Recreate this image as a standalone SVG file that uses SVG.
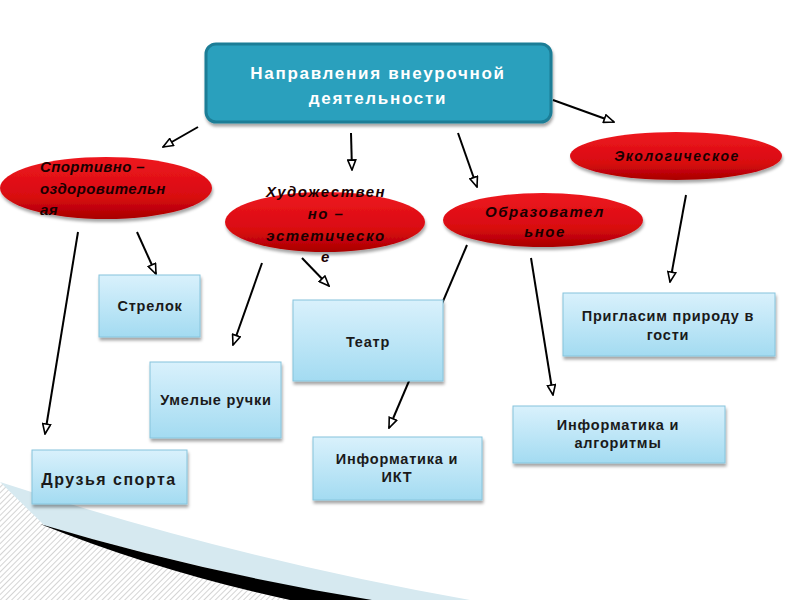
<svg xmlns="http://www.w3.org/2000/svg" width="800" height="600" viewBox="0 0 800 600">
<defs>
<linearGradient id="red" x1="0" y1="0" x2="0" y2="1">
<stop offset="0" stop-color="#ee1820"/>
<stop offset="0.65" stop-color="#d80a10"/>
<stop offset="1" stop-color="#a80000"/>
</linearGradient>
<linearGradient id="blue" x1="0" y1="0" x2="0" y2="1">
<stop offset="0" stop-color="#d9f1fc"/>
<stop offset="1" stop-color="#a3dbf1"/>
</linearGradient>
<filter id="sh" x="-10%" y="-10%" width="125%" height="130%">
<feDropShadow dx="1" dy="3" stdDeviation="1.5" flood-color="#000" flood-opacity="0.35"/>
</filter>
<pattern id="hatch" width="4" height="4" patternUnits="userSpaceOnUse" patternTransform="rotate(45)">
<rect width="4" height="4" fill="#ffffff"/>
<line x1="0" y1="0" x2="0" y2="4" stroke="#bdbdbd" stroke-width="1.3"/>
</pattern>
<marker id="ah" viewBox="0 0 12 10" refX="11" refY="5" markerWidth="12" markerHeight="10" markerUnits="userSpaceOnUse" orient="auto">
<path d="M1,1 L11,5 L1,9 Z" fill="#fff" stroke="#000" stroke-width="1.6"/>
</marker>
<style>
.box{fill:url(#blue);stroke:#86c4dc;stroke-width:1;filter:url(#sh)}
.ell{fill:url(#red);filter:url(#sh)}
.bt{font-family:"Liberation Sans",Arial,sans-serif;font-weight:bold;font-size:14.5px;fill:#1a1a1a;text-anchor:middle;letter-spacing:0.8px}
.et{font-family:"Liberation Sans",Arial,sans-serif;font-weight:bold;font-style:italic;font-size:15px;fill:#1a0000;letter-spacing:1.5px}
.sp{letter-spacing:0.4px}
.con{stroke:#000;stroke-width:2;fill:none;marker-end:url(#ah)}
</style>
</defs>
<rect width="800" height="600" fill="#fff"/>
<g id="decor">
<path d="M0,482 Q30,505 70,528 Q200,572 330,600 L0,600 Z" fill="url(#hatch)"/>
<path d="M0,482 Q240,560 470,600 L360,600 Q200,570 45,526 Z" fill="#d6e9f0"/>
<path d="M40,524 Q200,572 372,600 L290,600 Q160,572 40,524 Z" fill="#000"/>
</g>
<g id="connectors">
<line class="con" x1="198" y1="127" x2="163" y2="147"/>
<line class="con" x1="351" y1="133" x2="352" y2="170"/>
<line class="con" x1="458" y1="133" x2="477" y2="187"/>
<line class="con" x1="553" y1="100" x2="614" y2="122"/>
<line class="con" x1="78" y1="232" x2="45" y2="434"/>
<line class="con" x1="137" y1="232" x2="156" y2="274"/>
<line class="con" x1="262" y1="263" x2="233" y2="345"/>
<line class="con" x1="302" y1="258" x2="329" y2="286"/>
<line class="con" x1="467" y1="245" x2="389" y2="428"/>
<line class="con" x1="531" y1="258" x2="553" y2="395"/>
<line class="con" x1="686" y1="195" x2="670" y2="282"/>
</g>
<g id="main">
<rect x="206" y="44" width="345" height="78" rx="10" fill="#2aa0bd" stroke="#1d7d96" stroke-width="3" filter="url(#sh)"/>
<text x="378" y="79" font-family="Liberation Sans,Arial,sans-serif" font-weight="bold" font-size="17" letter-spacing="1.7" fill="#fff" text-anchor="middle">Направления внеурочной</text>
<text x="378" y="104" font-family="Liberation Sans,Arial,sans-serif" font-weight="bold" font-size="17" letter-spacing="1.7" fill="#fff" text-anchor="middle">деятельности</text>
</g>
<g id="sport">
<ellipse class="ell" cx="106" cy="188" rx="106" ry="31"/>
<text class="et sp" x="40" y="172">Спортивно –</text>
<text class="et sp" x="40" y="194">оздоровительн</text>
<text class="et sp" x="40" y="215">ая</text>
</g>
<g id="art">
<ellipse class="ell" cx="325" cy="222" rx="100" ry="30"/>
<text class="et" x="326" y="197" text-anchor="middle">Художествен</text>
<text class="et" x="326" y="219" text-anchor="middle">но –</text>
<text class="et" x="326" y="241" text-anchor="middle">эстетическо</text>
<text class="et" x="326" y="262" text-anchor="middle">е</text>
</g>
<g id="edu">
<ellipse class="ell" cx="543" cy="220" rx="100" ry="27"/>
<text class="et" x="545" y="217" text-anchor="middle">Образовател</text>
<text class="et" x="545" y="237" text-anchor="middle">ьное</text>
</g>
<g id="eco">
<ellipse class="ell" cx="676" cy="156" rx="106" ry="24"/>
<text class="et" x="677" y="161" text-anchor="middle" style="font-size:14px">Экологическое</text>
</g>
<g id="strelok">
<rect class="box" x="99" y="275" width="101" height="62"/>
<text class="bt" x="150" y="311">Стрелок</text>
</g>
<g id="teatr">
<rect class="box" x="293" y="300" width="150" height="81"/>
<text class="bt" x="368" y="347">Театр</text>
</g>
<g id="ruchki">
<rect class="box" x="150" y="362" width="131" height="76"/>
<text class="bt" x="216" y="405">Умелые ручки</text>
</g>
<g id="druzya">
<rect class="box" x="32" y="450" width="155" height="54"/>
<text class="bt" x="109" y="485" style="font-size:16px;letter-spacing:1.5px">Друзья спорта</text>
</g>
<g id="ikt">
<rect class="box" x="313" y="437" width="169" height="63"/>
<text class="bt" x="397" y="464">Информатика и</text>
<text class="bt" x="397" y="482">ИКТ</text>
</g>
<g id="priroda">
<rect class="box" x="563" y="293" width="212" height="63"/>
<text class="bt" x="668" y="321">Пригласим природу в</text>
<text class="bt" x="668" y="340">гости</text>
</g>
<g id="algo">
<rect class="box" x="513" y="406" width="212" height="57"/>
<text class="bt" x="618" y="430">Информатика и</text>
<text class="bt" x="618" y="448">алгоритмы</text>
</g>
</svg>
